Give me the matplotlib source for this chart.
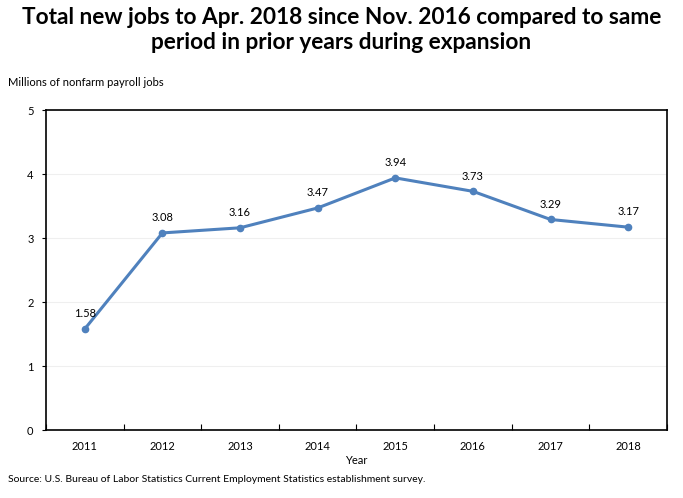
import matplotlib.pyplot as plt
import numpy as np

plt.rcParams['font.family'] = ['Lato', 'DejaVu Sans']

years = ['2011', '2012', '2013', '2014', '2015', '2016', '2017', '2018']
jobs = [1.58, 3.08, 3.16, 3.47, 3.94, 3.73, 3.29, 3.17]
yticks = [0, 1, 2, 3, 4, 5]

fig = plt.figure(figsize=(6.83, 4.98), dpi=100)
ax = fig.add_axes([0.0673, 0.1365, 0.9093, 0.6425])

x = np.arange(len(years))
ax.plot(x, jobs, color='#4F81BD', linewidth=2.2, marker='o', markersize=4.5)
for xi, v in zip(x, jobs):
    ax.annotate(f'{v:.2f}', (xi, v), xytext=(0, 7), textcoords='offset points',
                ha='center', va='bottom', fontsize=8)

ax.set_xlim(-0.5, len(years) - 0.5)
ax.set_ylim(0, 5)
ax.set_yticks(yticks)
ax.set_yticklabels([str(t) for t in yticks], fontsize=8)
ax.set_xticks(x)
ax.set_xticklabels(years, fontsize=8)
ax.tick_params(axis='x', length=0, pad=8)
ax.set_xticks(np.arange(-0.5, len(years)), minor=True)
ax.tick_params(axis='x', which='minor', direction='in', length=4, width=0.8)
ax.tick_params(axis='y', length=3, width=0.8, pad=6)
ax.grid(axis='y', color='#efefef', linewidth=0.8)
ax.set_axisbelow(True)
for s in ax.spines.values():
    s.set_linewidth(1.2)

ax.set_xlabel('Year', fontsize=8, labelpad=2)
fig.text(0.012, 0.835, 'Millions of nonfarm payroll jobs', fontsize=8, ha='left', va='center')
fig.suptitle('Total new jobs to Apr. 2018 since Nov. 2016 compared to same\nperiod in prior years during expansion',
             fontsize=16.3, fontweight='bold', y=0.985, va='top', linespacing=1.2)
fig.text(0.012, 0.037, 'Source: U.S. Bureau of Labor Statistics Current Employment Statistics establishment survey.',
         fontsize=7.5, ha='left', va='center')

fig.savefig('out.png', dpi=100)
